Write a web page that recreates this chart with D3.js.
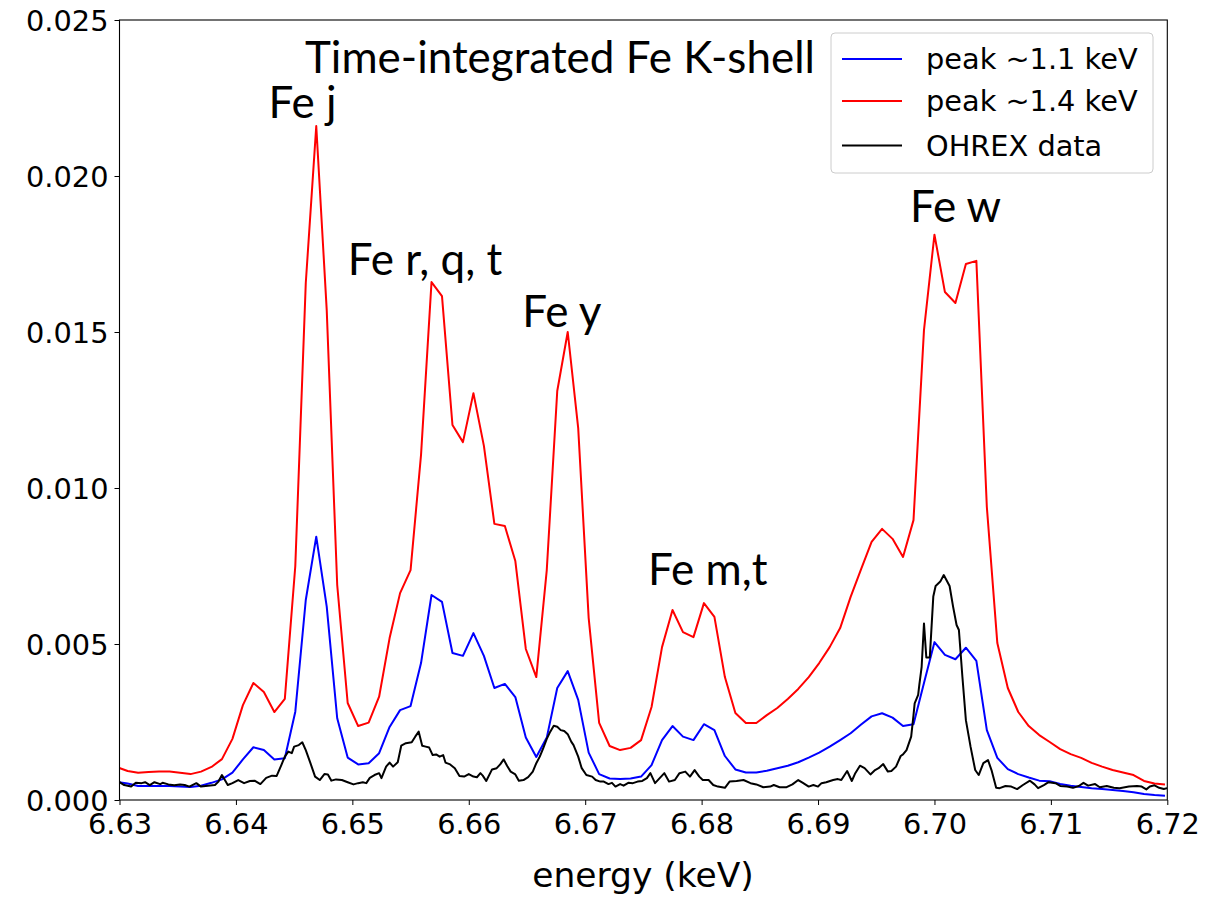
<!DOCTYPE html>
<html><head><meta charset="utf-8">
<script src="https://cdn.jsdelivr.net/npm/d3@7"></script>
<style>body{margin:0;background:#fff;} svg{display:block;}</style>
</head><body>
<svg id="chart" width="1221" height="897"></svg>
<script>
// ---------- data ----------
const modelEnergy = [6.6298,
 6.6307,6.6316,6.6325,6.6334,6.6343,6.6352,6.6361,6.6370,6.6379,6.6388,
 6.6397,6.6406,6.6415,6.6424,6.6433,6.6442,6.6451,6.6460,6.6469,6.6478,
 6.6487,6.6496,6.6505,6.6514,6.6523,6.6532,6.6541,6.6550,6.6559,6.6568,
 6.6577,6.6586,6.6595,6.6604,6.6613,6.6622,6.6631,6.6640,6.6649,6.6658,
 6.6667,6.6676,6.6685,6.6694,6.6703,6.6712,6.6721,6.6730,6.6739,6.6748,
 6.6757,6.6766,6.6775,6.6784,6.6793,6.6802,6.6811,6.6820,6.6829,6.6838,
 6.6847,6.6856,6.6865,6.6874,6.6883,6.6892,6.6901,6.6910,6.6919,6.6928,
 6.6937,6.6946,6.6955,6.6964,6.6973,6.6982,6.6991,6.7000,6.7009,6.7018,
 6.7027,6.7036,6.7045,6.7054,6.7063,6.7072,6.7081,6.7090,6.7099,6.7108,
 6.7117,6.7126,6.7135,6.7144,6.7153,6.7162,6.7171,6.7180,6.7189,6.7198];

const peak14 = [0.00105,
 0.00093,0.00087,0.00090,0.00091,0.00091,0.00087,0.00083,0.00091,0.00106,0.00131,
 0.00196,0.00304,0.00375,0.00346,0.00282,0.00324,0.00750,0.01657,0.02160,0.01570,
 0.00689,0.00311,0.00237,0.00248,0.00331,0.00519,0.00663,0.00737,0.01106,0.01660,
 0.01615,0.01202,0.01147,0.01304,0.01135,0.00885,0.00878,0.00766,0.00484,0.00394,
 0.00737,0.01311,0.01500,0.01192,0.00583,0.00247,0.00173,0.00160,0.00167,0.00192,
 0.00298,0.00490,0.00609,0.00538,0.00522,0.00631,0.00587,0.00394,0.00279,0.00247,
 0.00247,0.00272,0.00295,0.00324,0.00356,0.00394,0.00439,0.00490,0.00551,0.00651,
 0.00740,0.00827,0.00869,0.00837,0.00779,0.00897,0.01506,0.01812,0.01628,0.01593,
 0.01718,0.01728,0.00939,0.00503,0.00359,0.00282,0.00237,0.00208,0.00186,0.00163,
 0.00147,0.00135,0.00119,0.00107,0.00096,0.00088,0.00080,0.00061,0.00053,0.00050];

const peak11 = [0.00058,
 0.00053,0.00045,0.00045,0.00045,0.00045,0.00043,0.00042,0.00046,0.00055,0.00066,
 0.00088,0.00130,0.00169,0.00160,0.00130,0.00134,0.00283,0.00641,0.00844,0.00620,
 0.00262,0.00136,0.00114,0.00118,0.00150,0.00234,0.00288,0.00301,0.00439,0.00657,
 0.00635,0.00471,0.00462,0.00535,0.00462,0.00359,0.00372,0.00330,0.00200,0.00138,
 0.00200,0.00359,0.00413,0.00321,0.00152,0.00083,0.00069,0.00067,0.00069,0.00075,
 0.00112,0.00192,0.00237,0.00203,0.00192,0.00243,0.00224,0.00141,0.00098,0.00088,
 0.00088,0.00094,0.00102,0.00110,0.00121,0.00136,0.00152,0.00171,0.00192,0.00214,
 0.00242,0.00268,0.00278,0.00264,0.00237,0.00243,0.00375,0.00506,0.00465,0.00451,
 0.00488,0.00446,0.00224,0.00135,0.00099,0.00083,0.00072,0.00062,0.00060,0.00051,
 0.00046,0.00042,0.00038,0.00035,0.00032,0.00029,0.00025,0.00019,0.00016,0.00014];

const dataEnergy = [
 6.6300,6.6304,6.6310,6.6314,6.6319,6.6322,6.6326,6.6330,6.6335,6.6337,6.6342,6.6347,6.6352,6.6356,6.6360,
 6.6366,6.6370,6.6376,6.6382,6.6385,6.6388,6.6393,6.6397,6.6402,6.6407,6.6412,6.6416,6.6421,6.6426,6.6431,
 6.6435,6.6439,6.6442,6.6445,6.6448,6.6450,6.6454,6.6457,6.6460,6.6464,6.6468,6.6472,6.6476,6.6479,6.6482,
 6.6486,6.6491,6.6496,6.6501,6.6505,6.6509,6.6512,6.6515,6.6519,6.6523,6.6525,6.6529,6.6532,6.6535,6.6539,
 6.6542,6.6546,6.6551,6.6554,6.6557,6.6560,6.6563,6.6566,6.6569,6.6572,6.6575,6.6578,6.6580,6.6584,6.6588,
 6.6592,6.6596,6.6600,6.6604,6.6607,6.6610,6.6612,6.6615,6.6620,6.6624,6.6627,6.6630,6.6633,6.6636,6.6640,
 6.6643,6.6647,6.6651,6.6655,6.6658,6.6661,6.6664,6.6667,6.6670,6.6673,6.6676,6.6679,6.6682,6.6685,6.6688,
 6.6690,6.6694,6.6697,6.6701,6.6706,6.6709,6.6713,6.6716,6.6720,6.6723,6.6726,6.6730,6.6733,6.6737,6.6741,
 6.6745,6.6749,6.6753,6.6756,6.6760,6.6764,6.6768,6.6772,6.6777,6.6781,6.6786,6.6790,6.6794,6.6798,6.6801,
 6.6806,6.6810,6.6814,6.6820,6.6824,6.6830,6.6836,6.6842,6.6847,6.6853,6.6859,6.6862,6.6867,6.6873,6.6878,
 6.6883,6.6887,6.6892,6.6896,6.6900,6.6903,6.6907,6.6913,6.6917,6.6920,6.6925,6.6929,6.6932,6.6936,6.6940,
 6.6945,6.6949,6.6952,6.6956,6.6960,6.6963,6.6967,6.6971,6.6973,6.6976,6.6980,6.6982,6.6983,6.6986,6.6987,
 6.6989,6.6991,6.6993,6.6996,6.6999,6.7001,6.7005,6.7008,6.7013,6.7016,6.7019,6.7021,6.7024,6.7027,6.7031,
 6.7035,6.7038,6.7042,6.7046,6.7049,6.7053,6.7056,6.7061,6.7066,6.7071,6.7076,6.7082,6.7086,6.7089,6.7094,
 6.7098,6.7104,6.7108,6.7114,6.7119,6.7124,6.7128,6.7132,6.7138,6.7142,6.7148,6.7154,6.7159,6.7167,6.7174,
 6.7178,6.7182,6.7185,6.7189,6.7193,6.7197,6.7200];

const ohrexData = [
 0.00057,0.00048,0.00043,0.00055,0.00054,0.00057,0.00048,0.00057,0.00051,0.00055,0.00050,0.00047,0.00050,0.00048,0.00043,
 0.00054,0.00043,0.00046,0.00048,0.00059,0.00080,0.00048,0.00054,0.00064,0.00054,0.00061,0.00062,0.00051,0.00071,0.00078,
 0.00077,0.00112,0.00139,0.00155,0.00150,0.00171,0.00176,0.00185,0.00160,0.00118,0.00075,0.00064,0.00083,0.00082,0.00062,
 0.00066,0.00064,0.00057,0.00050,0.00054,0.00057,0.00054,0.00071,0.00080,0.00086,0.00070,0.00107,0.00120,0.00107,0.00121,
 0.00174,0.00182,0.00185,0.00203,0.00219,0.00174,0.00171,0.00168,0.00144,0.00146,0.00139,0.00144,0.00120,0.00114,0.00102,
 0.00077,0.00075,0.00083,0.00075,0.00073,0.00086,0.00078,0.00061,0.00098,0.00102,0.00114,0.00130,0.00109,0.00091,0.00082,
 0.00062,0.00064,0.00073,0.00091,0.00118,0.00139,0.00166,0.00196,0.00219,0.00238,0.00235,0.00224,0.00221,0.00211,0.00187,
 0.00176,0.00139,0.00102,0.00080,0.00075,0.00064,0.00059,0.00059,0.00051,0.00055,0.00043,0.00051,0.00046,0.00055,0.00054,
 0.00059,0.00061,0.00070,0.00086,0.00054,0.00070,0.00086,0.00059,0.00064,0.00086,0.00091,0.00075,0.00096,0.00075,0.00064,
 0.00064,0.00048,0.00043,0.00039,0.00059,0.00061,0.00064,0.00054,0.00050,0.00041,0.00043,0.00048,0.00041,0.00041,0.00050,
 0.00064,0.00055,0.00043,0.00048,0.00043,0.00054,0.00057,0.00064,0.00067,0.00064,0.00093,0.00061,0.00086,0.00110,0.00102,
 0.00082,0.00096,0.00102,0.00115,0.00091,0.00093,0.00107,0.00141,0.00146,0.00160,0.00203,0.00272,0.00310,0.00337,0.00369,
 0.00427,0.00566,0.00457,0.00457,0.00652,0.00686,0.00700,0.00721,0.00686,0.00620,0.00561,0.00545,0.00395,0.00256,0.00171,
 0.00096,0.00080,0.00118,0.00128,0.00096,0.00039,0.00038,0.00045,0.00043,0.00035,0.00048,0.00062,0.00050,0.00038,0.00048,
 0.00057,0.00054,0.00045,0.00043,0.00039,0.00045,0.00055,0.00046,0.00051,0.00041,0.00045,0.00039,0.00038,0.00043,0.00045,
 0.00043,0.00034,0.00043,0.00047,0.00039,0.00035,0.00038];

const xTicks = [6.63,6.64,6.65,6.66,6.67,6.68,6.69,6.70,6.71,6.72];
const yTicks = [0.000,0.005,0.010,0.015,0.020,0.025];
const seriesNames = ["peak ~1.1 keV","peak ~1.4 keV","OHREX data"];
const seriesColors = ["#0000ff","#ff0000","#000000"];
const annotations = [
  {text:"Fe j", x:6.6428, y:0.02186},
  {text:"Fe r, q, t", x:6.6496, y:0.01683},
  {text:"Fe y", x:6.6646, y:0.01516},
  {text:"Fe m,t", x:6.6754, y:0.00689},
  {text:"Fe w", x:6.6979, y:0.01853}
];
const titleText = "Time-integrated Fe K-shell";

// ---------- layout ----------
const svg = d3.select("#chart");
const M = {left:119.5, top:20, right:1167.3, bottom:800};
const x = d3.scaleLinear().domain([6.63,6.72]).range([M.left, M.right]);
const y = d3.scaleLinear().domain([0,0.025]).range([M.bottom, M.top]);
const tickFont = "'DejaVu Sans', sans-serif";
const annFont = "Lato, 'Open Sans', sans-serif";

svg.append("defs").append("clipPath").attr("id","clip")
  .append("rect").attr("x",M.left).attr("y",M.top)
  .attr("width",M.right-M.left).attr("height",M.bottom-M.top);

const line = d3.line().x(d=>x(d[0])).y(d=>y(d[1]));
const plot = svg.append("g").attr("clip-path","url(#clip)");
const series = [
  modelEnergy.map((e,i)=>[e,peak11[i]]),
  modelEnergy.map((e,i)=>[e,peak14[i]]),
  dataEnergy.map((e,i)=>[e,ohrexData[i]])
];
series.forEach((s,i)=>{
  plot.append("path").datum(s).attr("d",line)
    .attr("fill","none").attr("stroke",seriesColors[i])
    .attr("stroke-width",2).attr("stroke-linejoin","round");
});

// axes
const xAxis = d3.axisBottom(x).tickValues(xTicks).tickFormat(d3.format(".2f")).tickSizeOuter(0).tickSize(5).tickPadding(7);
const yAxis = d3.axisLeft(y).tickValues(yTicks).tickFormat(d3.format(".3f")).tickSizeOuter(0).tickSize(5).tickPadding(6);
const gx = svg.append("g").attr("transform",`translate(0,${M.bottom})`).call(xAxis);
const gy = svg.append("g").attr("transform",`translate(${M.left},0)`).call(yAxis);
[gx,gy].forEach(g=>{
  g.select(".domain").remove();
  g.selectAll(".tick line").attr("stroke","#000").attr("stroke-width",1);
  g.selectAll("text").attr("font-family",tickFont).attr("font-size",28.8).attr("fill","#000");
});
gx.selectAll("text").attr("dy","0.75em");
gy.selectAll("text").attr("dy","0.36em");

// frame
svg.append("rect").attr("x",M.left).attr("y",M.top)
  .attr("width",M.right-M.left).attr("height",M.bottom-M.top)
  .attr("fill","none").attr("stroke","#000").attr("stroke-width",1.1);

// axis label
svg.append("text").attr("x",643).attr("y",887)
  .attr("text-anchor","middle").attr("font-family",tickFont).attr("font-size",34.5)
  .text("energy (keV)");

// annotations (size fitted to the title width)
const title = svg.append("text").attr("x",305).attr("y",73)
  .attr("font-family",annFont).attr("font-size",40).text(titleText);
const tw = title.node().getComputedTextLength();
const annSize = 40*510/tw;
title.attr("font-size",annSize);
annotations.forEach(a=>{
  svg.append("text").attr("x",x(a.x)).attr("y",y(a.y))
    .attr("text-anchor","start").attr("font-family",annFont)
    .attr("font-size",annSize).text(a.text);
});

// legend
const lg = svg.append("g");
lg.append("rect").attr("x",831).attr("y",33).attr("width",322).attr("height",140)
  .attr("rx",4).attr("fill","#fff").attr("fill-opacity",0.8)
  .attr("stroke","#cccccc").attr("stroke-width",1);
const legY = [59,101,145.5];
seriesNames.forEach((n,i)=>{
  lg.append("line").attr("x1",842).attr("x2",902).attr("y1",legY[i]).attr("y2",legY[i])
    .attr("stroke",seriesColors[i]).attr("stroke-width",2);
  lg.append("text").attr("x",926).attr("y",legY[i]).attr("dy","0.36em")
    .attr("font-family",tickFont).attr("font-size",28.8).text(n);
});
</script>
</body></html>
